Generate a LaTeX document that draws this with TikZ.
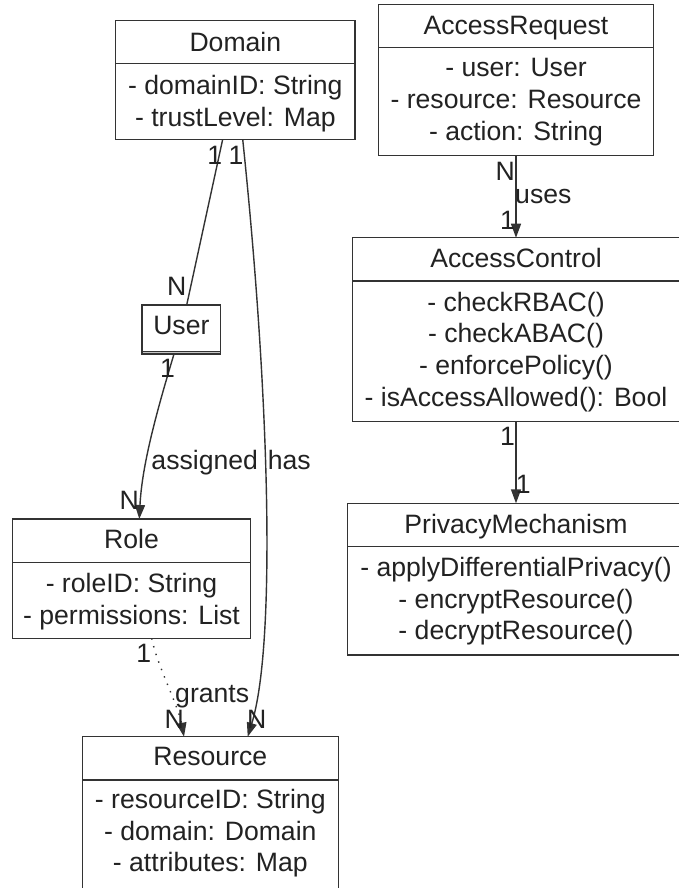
\documentclass[tikz,border=0pt]{standalone}
\usepackage{fontspec}
\setmainfont{Liberation Sans}
\usetikzlibrary{arrows.meta}

\definecolor{linec}{RGB}{51,51,51}
\definecolor{textc}{RGB}{34,34,34}

% class box: outer frame as a named node plus the title/attribute divider
\newcommand\umlclass[6]{%
  \node[classbox, anchor=north west, minimum width={#4-#2}, minimum height={#5-#3}] (#1) at (#2,#3) {};
  \draw[boxline] (#1.west |- 0,#6) -- (#1.east |- 0,#6);
}

\begin{document}
\begin{tikzpicture}[x=1pt, y=-1pt,
  classbox/.style={draw=linec, line width=1.5pt, fill=white, inner sep=0pt, outer sep=0pt},
  boxline/.style={draw=linec, line width=1.5pt},
  txt/.style={font=\fontsize{26.6}{31.7}\selectfont, text=textc, inner sep=0pt, anchor=base},
  lbl/.style={font=\fontsize{26.6}{31.7}\selectfont, text=textc, inner sep=0pt},
  assoc/.style={draw=linec, line width=1.4pt},
  tipped/.style={assoc, -{Triangle[length=14pt, width=10pt]}},
  dotline/.style={dash pattern=on 1.4pt off 6.6pt}
]
\fill[white] (0,0) rectangle (678,888);
\useasboundingbox (0,0) rectangle (678,888);

% ---- classes ----
\umlclass{domain}{115.7}{20.7}{355}{139.3}{63.3}
\node[txt] at (235.35,51.7) {Domain};
\node[txt] at (235.35,94.3) {- domainID: String};
\node[txt] at (235.35,126) {- trustLevel: Map};

\umlclass{request}{378.7}{4.3}{653.3}{155.7}{47.7}
\node[txt] at (516,34.3) {AccessRequest};
\node[txt] at (516,76.7) {- user: User};
\node[txt] at (516,108.4) {- resource: Resource};
\node[txt] at (516,140.1) {- action: String};

\umlclass{control}{352.7}{237.7}{679.3}{421.7}{281}
\node[txt] at (516,267.7) {AccessControl};
\node[txt] at (516,311) {- checkRBAC()};
\node[txt] at (516,342.6) {- checkABAC()};
\node[txt] at (516,374.3) {- enforcePolicy()};
\node[txt] at (516,406) {- isAccessAllowed(): Bool};

\umlclass{privacy}{347.3}{503.3}{684.7}{655}{546.7}
\node[txt] at (516,533) {PrivacyMechanism};
\node[txt] at (516,576.5) {- applyDifferentialPrivacy()};
\node[txt] at (516,608.2) {- encryptResource()};
\node[txt] at (516,639.9) {- decryptResource()};

\umlclass{role}{12.3}{519}{250.7}{638.3}{562.3}
\node[txt] at (131.5,548.3) {Role};
\node[txt] at (131.5,592.3) {- roleID: String};
\node[txt] at (131.5,624) {- permissions: List};

\umlclass{resource}{82.3}{736.7}{338.3}{890}{780}
\node[txt] at (210.3,765.7) {Resource};
\node[txt] at (210.3,808.3) {- resourceID: String};
\node[txt] at (210.3,840) {- domain: Domain};
\node[txt] at (210.3,871.7) {- attributes: Map};

% User: title only, with an empty (grey) attribute strip
\node[classbox, anchor=north west, minimum width=78.7, minimum height=49] (user) at (142,305) {};
\fill[gray!45] ([xshift=0.75pt]user.south west) rectangle ([xshift=-0.75pt,yshift=2.3pt]user.south east);
\draw[boxline] ([yshift=2.3pt]user.south west) -- ([yshift=2.3pt]user.south east);
\draw[boxline] (user.south west) -- (user.south east);
\node[txt] at (181.35,334.3) {User};

% ---- associations ----
\draw[assoc] ([xshift=-12.65pt]domain.south) -- ([xshift=5.35pt]user.north);
\node[lbl] at (214.7,155) {1};
\node[lbl] at (176.7,286.7) {N};

\draw[tipped] ([xshift=7.35pt]domain.south) .. controls +(27.3,261) and +(28.3,-91.7) .. ([xshift=37.4pt]resource.north);
\node[lbl] at (236,155) {1};
\node[txt] at (289.3,469.3) {has};
\node[lbl] at (256.7,719) {N};

\draw[tipped] ([xshift=-7.35pt]user.south) .. controls +(-16.5,55) and +(2.7,-55) .. ([xshift=7.8pt]role.north);
\node[lbl] at (167.5,368.5) {1};
\node[txt] at (204.7,469.3) {assigned};
\node[lbl] at (129.2,500.8) {N};

\draw[tipped, dotline] ([xshift=20.2pt]role.south) .. controls +(5.3,26.7) and +(-6,-31.7) .. ([xshift=-26.3pt]resource.north);
\node[lbl] at (143.8,653.3) {1};
\node[txt] at (212.2,702.7) {grants};
\node[lbl] at (174.2,719.2) {N};

\draw[tipped] (request.south) -- (control.north);
\node[lbl] at (505.3,171.7) {N};
\node[txt] at (543.3,203.3) {uses};
\node[lbl] at (507.5,220) {1};

\draw[tipped] (control.south) -- (privacy.north);
\node[lbl] at (507.5,436.7) {1};
\node[lbl] at (523.3,484.2) {1};
\end{tikzpicture}
\end{document}
